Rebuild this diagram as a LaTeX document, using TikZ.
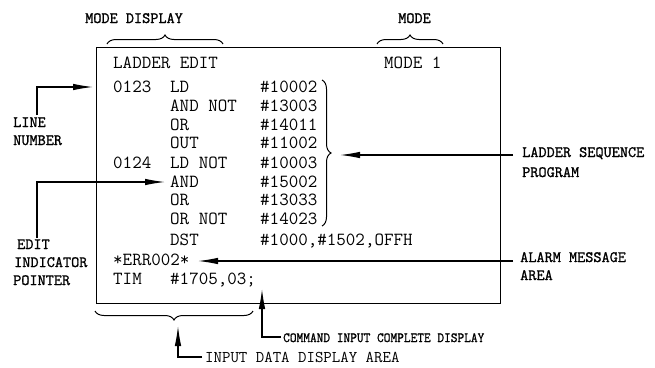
\documentclass[tikz,border=0pt]{standalone}
\usepackage{fontspec}
\newfontfamily\boxfont{Latin Modern Mono}
\newfontfamily\labfont[FakeBold=1.2]{Latin Modern Mono}
\usetikzlibrary{arrows.meta,decorations.pathreplacing}
\tikzset{
  boxtxt/.style={anchor=base west, inner sep=0pt, font=\boxfont\fontsize{18.5}{20}\selectfont},
  labtxt/.style={anchor=base west, inner sep=0pt, font=\labfont\fontsize{15.8}{17}\selectfont},
  conn/.style={line width=1.1pt},
  tipend/.style={-{Latex[length=20pt,width=6.5pt]}},
  brc/.style={decorate, decoration={brace, amplitude=9pt}, line width=1pt},
}
\begin{document}
\begin{tikzpicture}[x=1pt,y=-1pt]
\useasboundingbox (0,0) rectangle (655,367);
% screen box
\node[draw, line width=1.2pt, minimum width=404pt, minimum height=256pt, anchor=north west, inner sep=0pt] (screen) at (96,47) {};
% box text
\node[boxtxt] (t0) at (113,68) {LADDER EDIT};
\node[boxtxt] (m1) at (384,68) {MODE 1};
\node[boxtxt] (n1) at (113,92) {0123};
\node[boxtxt] (o1) at (170,92) {LD};
\node[boxtxt] (a1) at (260,92) {\#10002};
\node[boxtxt] (o2) at (170,111) {AND NOT};
\node[boxtxt] (a2) at (260,111) {\#13003};
\node[boxtxt] (o3) at (170,130) {OR};
\node[boxtxt] (a3) at (260,130) {\#14011};
\node[boxtxt] (o4) at (170,148) {OUT};
\node[boxtxt] (a4) at (260,148) {\#11002};
\node[boxtxt] (n2) at (113,168) {0124};
\node[boxtxt] (o5) at (170,168) {LD NOT};
\node[boxtxt] (a5) at (260,168) {\#10003};
\node[boxtxt] (o6) at (170,187) {AND};
\node[boxtxt] (a6) at (260,187) {\#15002};
\node[boxtxt] (o7) at (170,205) {OR};
\node[boxtxt] (a7) at (260,205) {\#13033};
\node[boxtxt] (o8) at (170,224) {OR NOT};
\node[boxtxt] (a8) at (260,224) {\#14023};
\node[boxtxt] (o9) at (170,245) {DST};
\node[boxtxt] (a9) at (260,245) {\#1000,\#1502,OFFH};
\node[boxtxt] (err) at (113,265) {*ERR002*};
\node[boxtxt] (tim) at (113,284) {TIM};
\node[boxtxt] (timv) at (170,284) {\#1705,03;};
% outside labels
\node[labtxt] (lmd) at (85,23) {MODE DISPLAY};
\node[labtxt] (lmo) at (398,23) {MODE};
\node[labtxt] (lln1) at (13,127) {LINE};
\node[labtxt] (lln2) at (13,145) {NUMBER};
\node[labtxt] (led1) at (17,249) {EDIT};
\node[labtxt] (led2) at (14,267) {INDICATOR};
\node[labtxt] (led3) at (13,285) {POINTER};
\node[labtxt] (lls1) at (522,157) {LADDER SEQUENCE};
\node[labtxt] (lls2) at (522,177) {PROGRAM};
\node[labtxt] (lal1) at (520,262) {ALARM MESSAGE};
\node[labtxt] (lal2) at (520,280) {AREA};
\node[labtxt, font=\labfont\fontsize{14}{16}\selectfont, xscale=0.93, transform shape] (lcmd) at (283,342) {COMMAND INPUT COMPLETE DISPLAY};
\node[boxtxt, font=\boxfont\fontsize{16.4}{18}\selectfont] (lin) at (205,362) {INPUT DATA DISPLAY AREA};
% braces
\draw[brc] (107,44) coordinate (bmd1) -- (223,44) coordinate (bmd2);
\draw[brc] (377,44) coordinate (bmo1) -- (443,44) coordinate (bmo2);
\draw[brc] (322,80) coordinate (bls1) -- (322,226) coordinate (bls2);
\draw[brc] (253,311) coordinate (bin1) -- (95,311) coordinate (bin2);
% connectors
\coordinate (c1a) at (37,115); \coordinate (c1b) at (37,87); \coordinate (c1c) at (93,87);
\draw[conn,tipend] (c1a) -- (c1b) -- (c1c);
\coordinate (c2a) at (37,238); \coordinate (c2b) at (37,182); \coordinate (c2c) at (165,182);
\draw[conn,tipend] (c2a) -- (c2b) -- (c2c);
\coordinate (c3a) at (513,155); \coordinate (c3b) at (340,155);
\draw[conn,tipend] (c3a) -- (c3b);
\coordinate (c4a) at (513,261); \coordinate (c4b) at (198,261);
\draw[conn,tipend] (c4a) -- (c4b);
\coordinate (c5a) at (281,337); \coordinate (c5b) at (262,337); \coordinate (c5c) at (262,289);
\draw[conn,tipend] (c5a) -- (c5b) -- (c5c);
\coordinate (c6a) at (202,357); \coordinate (c6b) at (178,357); \coordinate (c6c) at (178,326);
\draw[conn,tipend] (c6a) -- (c6b) -- (c6c);
\end{tikzpicture}
\end{document}
